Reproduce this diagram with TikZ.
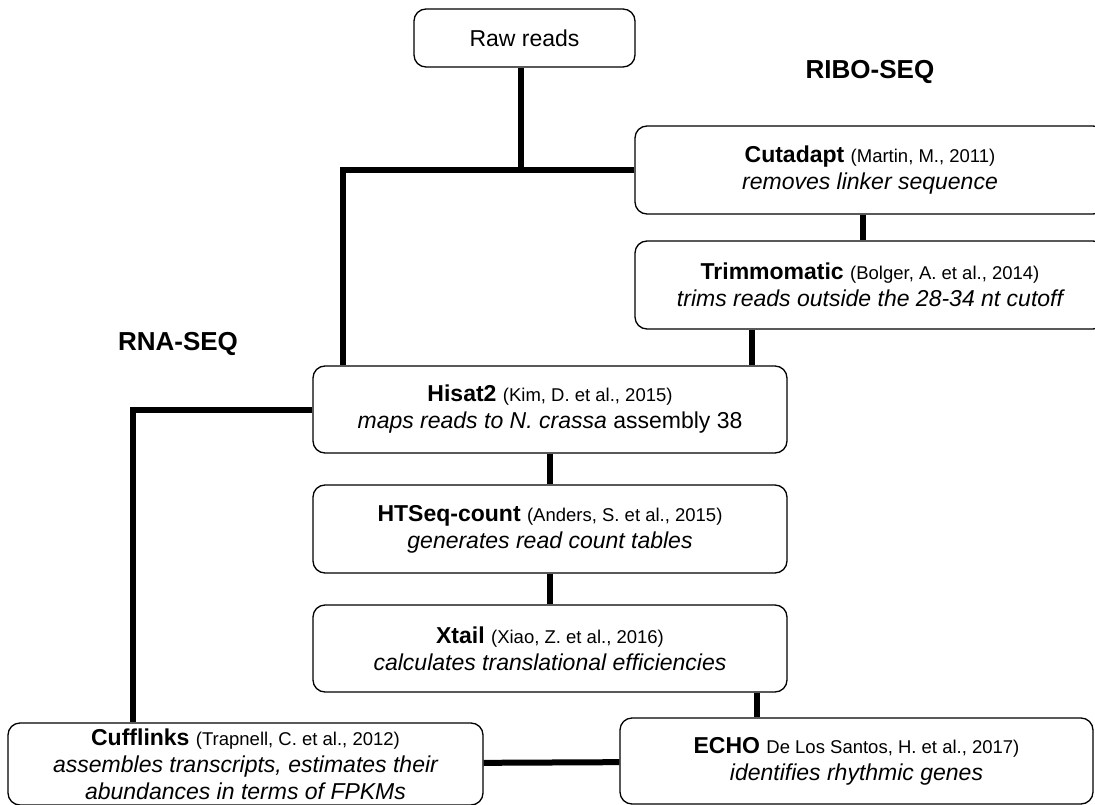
\documentclass[tikz,border=0pt]{standalone}
\usepackage{fontspec}
\setmainfont{Liberation Sans}
\usepackage{tikz}

\newcommand{\tool}[1]{\textbf{#1}}
\newcommand{\refyr}[1]{{\fontsize{18.5}{27}\selectfont #1}}

\begin{document}
\begin{tikzpicture}[x=1pt,y=-1pt,
  stepbox/.style={draw, line width=1.3pt, rounded corners=12pt, align=center,
    inner sep=0pt, font=\fontsize{23}{27}\selectfont},
  widebox/.style={stepbox, minimum width=474pt, minimum height=87pt},
  seqlabel/.style={font=\bfseries\fontsize{26}{30}\selectfont},
  link/.style={line width=6pt}]
  \useasboundingbox (0,0) rectangle (1095,805);

  % Draw the boxes
  \node[stepbox, minimum width=221pt, minimum height=58pt] (raw) at (524.5,38) {Raw reads};
  \node[widebox, minimum width=470pt, minimum height=88pt] (cut) at (870,170)
    {\tool{Cutadapt} \refyr{(Martin, M., 2011)}\\ \itshape removes linker sequence};
  \node[widebox, minimum width=470pt, minimum height=88pt] (trim) at (870,285)
    {\tool{Trimmomatic} \refyr{(Bolger, A. et al., 2014)}\\ \itshape trims reads outside the 28-34 nt cutoff};
  \node[widebox] (hisat) at (550,409.5)
    {\tool{Hisat2} \refyr{(Kim, D. et al., 2015)}\\ \textit{maps reads to N. crassa} assembly 38};
  \node[widebox, minimum height=88pt] (htseq) at (550,529)
    {\tool{HTSeq-count} \refyr{(Anders, S. et al., 2015)}\\ \itshape generates read count tables};
  \node[widebox] (xtail) at (550,648.5)
    {\tool{Xtail} \refyr{(Xiao, Z. et al., 2016)}\\ \itshape calculates translational efficiencies};
  \node[widebox, minimum width=475pt, minimum height=82pt] (cuff) at (245.5,764)
    {\tool{Cufflinks} \refyr{(Trapnell, C. et al., 2012)}\\ \itshape assembles transcripts, estimates their\\ \itshape abundances in terms of FPKMs};
  \node[widebox, minimum width=473pt, minimum height=86pt] (echo) at (856.5,761)
    {\tool{ECHO} \refyr{De Los Santos, H. et al., 2017)}\\ \itshape identifies rhythmic genes};

  % Pipeline labels
  \node[seqlabel] (ribo) at (870,72) {RIBO-SEQ};
  \node[seqlabel] (rna) at (178,344) {RNA-SEQ};

  % Connectors
  \coordinate (split) at (343,170);
  \coordinate (rawdrop) at (521,0);
  \coordinate (c2t) at (863,0);
  \coordinate (t2h) at (752,0);
  \coordinate (rnal) at (133,0);
  \coordinate (x2e) at (757,0);
  \draw[link] (raw.south -| rawdrop) -- (split -| rawdrop);
  \draw[link] (cut.west) -- (split) -- (split |- hisat.north);
  \draw[link] (cut.south -| c2t) -- (trim.north -| c2t);
  \draw[link] (trim.south -| t2h) -- (hisat.north -| t2h);
  \draw[link] (hisat.west) -- (hisat.west -| rnal) -- (rnal |- cuff.north);
  \draw[link] (hisat) -- (htseq);
  \draw[link] (htseq) -- (xtail);
  \draw[link] (xtail.south -| x2e) -- (echo.north -| x2e);
  \draw[link] (cuff) -- (echo);

\end{tikzpicture}
\end{document}
